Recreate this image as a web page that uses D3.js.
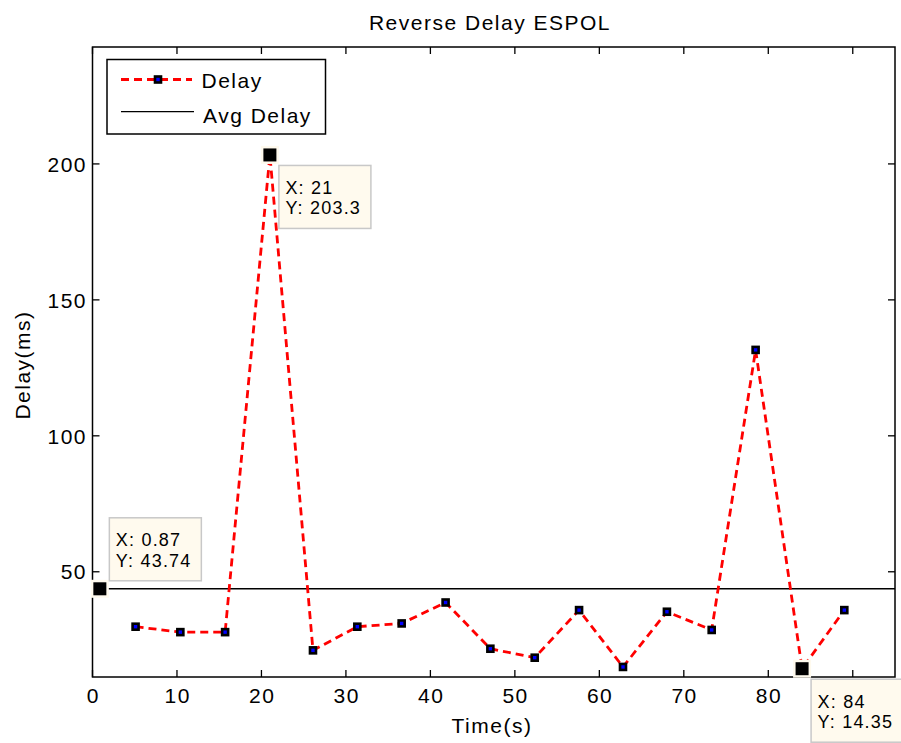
<!DOCTYPE html>
<html><head><meta charset="utf-8">
<script src="https://cdn.jsdelivr.net/npm/d3@7/dist/d3.min.js"></script>
<style>
body{margin:0;background:#fff;}
text{font-family:"Liberation Sans",Arial,Helvetica,sans-serif;fill:#000;}
</style></head>
<body>
<script>
// ---- data ----
const timeS   = [5.1, 10.4, 15.7, 21, 26.1, 31.35, 36.6, 41.8, 47.1, 52.35, 57.6, 62.8, 68.0, 73.3, 78.5, 84, 89.0];
const delayMs = [29.8, 27.8, 27.8, 203.3, 21.1, 29.8, 31.0, 38.7, 21.7, 18.4, 35.9, 15.0, 35.3, 28.6, 131.6, 14.35, 35.9];
const avgX = [0.87, 95];
const avgY = [43.74, 43.74];
const xTicks = [0, 10, 20, 30, 40, 50, 60, 70, 80, 90];
const xTickLabels = ["0", "10", "20", "30", "40", "50", "60", "70", "80"]; // "90" is hidden under a data tip in the reference
const yTicks = [50, 100, 150, 200];
const dataTips = [
  {x: 21, y: 203.3, lx: "X: 21", ly: "Y: 203.3", pos: "br"},
  {x: 0.87, y: 43.74, lx: "X: 0.87", ly: "Y: 43.74", pos: "tr"},
  {x: 84, y: 14.35, lx: "X: 84", ly: "Y: 14.35", pos: "br"}
];
const titleText = "Reverse Delay ESPOL";
const xLabel = "Time(s)";
const yLabel = "Delay(ms)";
const legendLabels = ["Delay", "Avg Delay"];

// ---- layout ----
const W = 901, H = 743;
const L = 92.5, R = 895, T = 47, B = 677;
const x = d3.scaleLinear().domain([0, 95]).range([L, R]);
const y = d3.scaleLinear().domain([11.3, 243]).range([B, T]);
const cream = "#fffaee";
const ls = "1.5px";

const svg = d3.select("body").append("svg").attr("width", W).attr("height", H);

svg.append("defs").append("clipPath").attr("id", "clip")
  .append("rect").attr("x", L).attr("y", T).attr("width", R - L).attr("height", B - T);

const plot = svg.append("g").attr("clip-path", "url(#clip)");

// avg line
plot.append("path")
  .datum(avgX.map((d, i) => [d, avgY[i]]))
  .attr("d", d3.line().x(d => x(d[0])).y(d => y(d[1])))
  .attr("fill", "none").attr("stroke", "#000").attr("stroke-width", 1.5);

// delay line
plot.append("path")
  .datum(timeS.map((d, i) => [d, delayMs[i]]))
  .attr("d", d3.line().x(d => x(d[0])).y(d => y(d[1])))
  .attr("fill", "none").attr("stroke", "#ff0000").attr("stroke-width", 2.8)
  .attr("stroke-dasharray", "8,5");

// markers
svg.append("g").selectAll("rect").data(timeS.map((d, i) => [d, delayMs[i]])).join("rect")
  .attr("x", d => x(d[0]) - 3).attr("y", d => y(d[1]) - 3)
  .attr("width", 6).attr("height", 6)
  .attr("fill", "#0000ff").attr("stroke", "#000").attr("stroke-width", 2.6);

// axes box
svg.append("rect").attr("x", L).attr("y", T).attr("width", R - L).attr("height", B - T)
  .attr("fill", "none").attr("stroke", "#000").attr("stroke-width", 1.5);

const tk = 7;
const axG = svg.append("g").attr("stroke", "#000").attr("stroke-width", 1.3);
xTicks.forEach(t => {
  axG.append("line").attr("x1", x(t)).attr("x2", x(t)).attr("y1", B).attr("y2", B - tk);
  axG.append("line").attr("x1", x(t)).attr("x2", x(t)).attr("y1", T).attr("y2", T + tk);
});
yTicks.forEach(t => {
  axG.append("line").attr("x1", L).attr("x2", L + tk).attr("y1", y(t)).attr("y2", y(t));
  axG.append("line").attr("x1", R).attr("x2", R - tk).attr("y1", y(t)).attr("y2", y(t));
});

// tick labels
svg.append("g").selectAll("text").data(xTickLabels).join("text")
  .attr("x", d => x(+d) + 0.75).attr("y", 703)
  .attr("text-anchor", "middle").attr("font-size", 21).style("letter-spacing", ls)
  .text(d => d);
svg.append("g").selectAll("text").data(yTicks).join("text")
  .attr("x", 87).attr("y", d => y(d) + 7.7)
  .attr("text-anchor", "end").attr("font-size", 21).style("letter-spacing", ls)
  .text(d => d);

// title & labels
svg.append("text").attr("x", 490).attr("y", 29.5).attr("text-anchor", "middle")
  .attr("font-size", 21).style("letter-spacing", ls).text(titleText);
svg.append("text").attr("x", 492).attr("y", 733).attr("text-anchor", "middle")
  .attr("font-size", 21).style("letter-spacing", ls).text(xLabel);
svg.append("text").attr("transform", "translate(30,365) rotate(-90)").attr("text-anchor", "middle")
  .attr("font-size", 21).style("letter-spacing", ls).text(yLabel);

// legend
const lg = svg.append("g");
lg.append("rect").attr("x", 107).attr("y", 59.5).attr("width", 218.5).attr("height", 74.5)
  .attr("fill", "#fff").attr("stroke", "#000").attr("stroke-width", 1.5);
lg.append("line").attr("x1", 121).attr("x2", 192).attr("y1", 79.5).attr("y2", 79.5)
  .attr("stroke", "#ff0000").attr("stroke-width", 2.8).attr("stroke-dasharray", "8,5");
lg.append("rect").attr("x", 155).attr("y", 76.5).attr("width", 6).attr("height", 6)
  .attr("fill", "#0000ff").attr("stroke", "#000").attr("stroke-width", 2.6);
lg.append("line").attr("x1", 121).attr("x2", 194).attr("y1", 111.7).attr("y2", 111.7)
  .attr("stroke", "#000").attr("stroke-width", 1.3);
lg.append("text").attr("x", 201.5).attr("y", 88.3).attr("font-size", 21).style("letter-spacing", ls).text(legendLabels[0]);
lg.append("text").attr("x", 203).attr("y", 122.7).attr("font-size", 21).style("letter-spacing", ls).text(legendLabels[1]);

// data tips
const tipG = svg.append("g");
dataTips.forEach(dt => {
  const px = x(dt.x), py = y(dt.y);
  tipG.append("rect").attr("x", px - 9).attr("y", py - 9).attr("width", 18).attr("height", 18).attr("fill", cream);
  tipG.append("rect").attr("x", px - 6.5).attr("y", py - 6.5).attr("width", 13).attr("height", 13).attr("fill", "#000");
  const bw = 92, bh = 63;
  let bx, by;
  if (dt.pos === "br") { bx = px + 9; by = py + 10.5; }
  else { bx = px + 9.5; by = py - 8 - bh; }
  tipG.append("rect").attr("x", bx).attr("y", by).attr("width", bw).attr("height", bh)
    .attr("fill", cream).attr("stroke", "#c8c8c8").attr("stroke-width", 1.5);
  tipG.append("text").attr("x", bx + 6.5).attr("y", by + 28.5).attr("font-size", 18).style("letter-spacing", "1.2px").text(dt.lx);
  tipG.append("text").attr("x", bx + 6.5).attr("y", by + 49).attr("font-size", 18).style("letter-spacing", "1.2px").text(dt.ly);
});
</script>
</body></html>
